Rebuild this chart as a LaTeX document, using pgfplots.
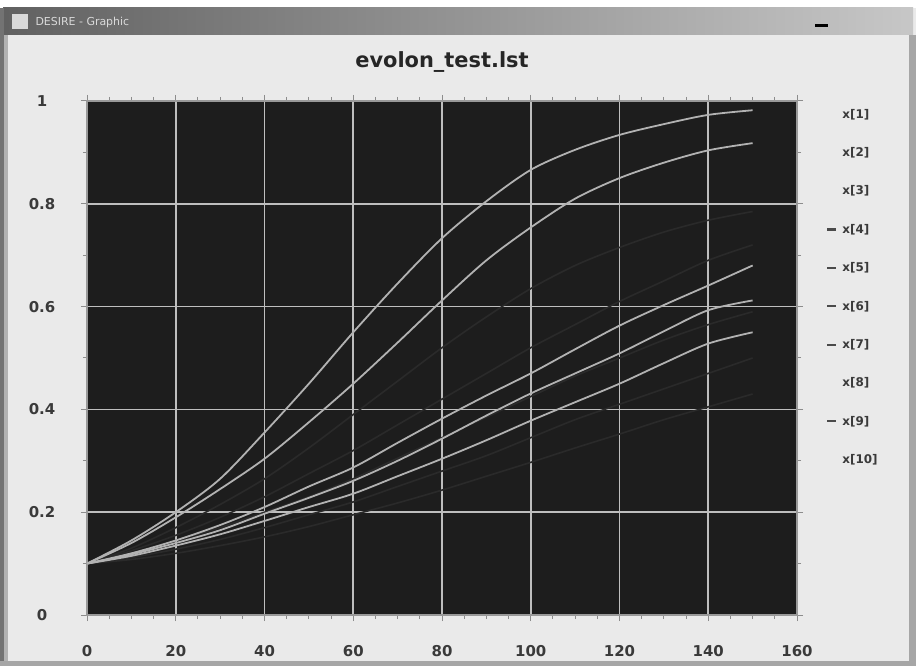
\documentclass[border=0pt]{standalone}
\usepackage{fontspec}
\setmainfont{DejaVu Sans}
\usepackage{pgfplots}
\usepackage{pgfplotstable}
\pgfplotsset{compat=1.18}

\definecolor{winbg}{HTML}{EAEAEA}
\definecolor{plotbg}{HTML}{1D1D1D}
\definecolor{gridc}{HTML}{BEBEBE}
\definecolor{curve}{HTML}{B2B2B2}
\definecolor{dimc}{HTML}{2A2A2A}
\definecolor{labc}{HTML}{3A3A3A}
\definecolor{legdark}{HTML}{4A4A4A}

% x  A(x1) B(x2) D(x3) C(x4) G(x5) H(x6) I(x7) E(x8) J(x9) F(x10)
\pgfplotstableread{
x   A     B     D     C     G     H     I     E     J     F
0   0.100 0.100 0.100 0.100 0.100 0.100 0.100 0.100 0.100 0.100
10  0.145 0.140 0.120 0.130 0.125 0.120 0.112 0.118 0.108 0.115
20  0.200 0.190 0.145 0.170 0.155 0.145 0.128 0.140 0.120 0.135
30  0.265 0.245 0.175 0.215 0.190 0.170 0.147 0.165 0.135 0.157
40  0.355 0.304 0.210 0.265 0.230 0.200 0.170 0.197 0.152 0.183
50  0.450 0.375 0.250 0.325 0.275 0.230 0.195 0.228 0.172 0.210
60  0.550 0.450 0.287 0.390 0.320 0.265 0.220 0.261 0.195 0.236
70  0.645 0.530 0.335 0.455 0.370 0.305 0.250 0.300 0.218 0.270
80  0.733 0.612 0.382 0.520 0.420 0.345 0.280 0.343 0.243 0.304
90  0.805 0.690 0.427 0.580 0.470 0.385 0.310 0.388 0.270 0.340
100 0.866 0.754 0.470 0.635 0.520 0.425 0.345 0.431 0.297 0.378
110 0.905 0.810 0.517 0.680 0.565 0.465 0.380 0.470 0.325 0.414
120 0.934 0.850 0.563 0.715 0.610 0.500 0.410 0.509 0.352 0.450
130 0.955 0.880 0.603 0.745 0.650 0.535 0.440 0.552 0.380 0.490
140 0.973 0.904 0.641 0.768 0.690 0.565 0.470 0.593 0.405 0.528
150 0.982 0.918 0.680 0.785 0.720 0.590 0.500 0.612 0.430 0.550
}\evol

\begin{document}
\begin{tikzpicture}
% window
\fill[winbg] (0bp,0bp) rectangle (916bp,666bp);
\path[use as bounding box] (0bp,0bp) rectangle (916bp,666bp);
\fill[white] (0bp,658bp) rectangle (916bp,666bp);
\shade[left color=black!62, right color=black!22] (3bp,631bp) rectangle (913bp,658bp);
\fill[black!55] (0bp,0bp) rectangle (4bp,658bp);
\fill[black!30] (4bp,0bp) rectangle (8bp,631bp);
\fill[black!35] (909bp,0bp) rectangle (916bp,631bp);
\fill[black!35] (0bp,0bp) rectangle (916bp,5bp);
\fill[black!15] (12bp,637bp) rectangle (28bp,652bp);
\node[anchor=west, text=white!85!black, font=\fontsize{11}{11}\selectfont] at (32bp,644bp) {DESIRE - Graphic};
\fill[black] (815bp,639bp) rectangle (828bp,642bp);

\begin{axis}[
    at={(87bp,51bp)}, anchor=south west,
    width=710bp, height=514bp, scale only axis,
    xmin=0, xmax=160, ymin=0, ymax=1,
    xtick={0,20,...,160},
    ytick={0,0.2,0.4,0.6,0.8,1},
    minor x tick num=3,
    minor y tick num=1,
    tick align=outside,
    major tick length=6bp, minor tick length=4bp,
    tick style={black!45, line width=1bp},
    axis background/.style={fill=plotbg},
    axis line style={black!40, line width=1.5bp},
    grid=major,
    major grid style={gridc, line width=1.6bp},
    /pgf/number format/assume math mode=true,
    ticklabel style={text=labc, font=\bfseries\fontsize{15}{15}\selectfont},
    yticklabel style={anchor=center, xshift=-39bp},
    xticklabel style={anchor=center, yshift=-30bp},
    title={evolon\_test.lst},
    title style={at={(0.5,1)}, anchor=center, yshift=33bp,
        font=\bfseries\fontsize{21}{21}\selectfont, text=black!85},
    legend style={at={(1,1)}, anchor=north west, xshift=26bp, yshift=-4bp,
        draw=none, fill=none, text=labc,
        font=\bfseries\fontsize{12}{12}\selectfont,
        row sep=23.8bp, nodes={inner xsep=5bp}},
    legend cell align=left,
]
% dim series first, bright ones on top
\foreach \c in {C,G,H,I,J} {
  \addplot[dimc, line width=1.6bp, smooth, forget plot] table[x=x, y=\c] {\evol};
}
\foreach \c in {A,B,D,E,F} {
  \addplot[curve, line width=1.8bp, smooth, forget plot] table[x=x, y=\c] {\evol};
}
% light series have light (invisible) legend samples, dark ones a dark dash
\addlegendimage{winbg, line width=2bp, legend image code/.code={\draw (0bp,0bp) -- (9bp,0bp);}}\addlegendentry{x[1]}
\addlegendimage{winbg, line width=2bp, legend image code/.code={\draw (0bp,0bp) -- (9bp,0bp);}}\addlegendentry{x[2]}
\addlegendimage{winbg, line width=2bp, legend image code/.code={\draw (0bp,0bp) -- (9bp,0bp);}}\addlegendentry{x[3]}
\addlegendimage{legdark, line width=2.2bp, legend image code/.code={\draw (0bp,0bp) -- (9bp,0bp);}}\addlegendentry{x[4]}
\addlegendimage{legdark, line width=2.2bp, legend image code/.code={\draw (0bp,0bp) -- (9bp,0bp);}}\addlegendentry{x[5]}
\addlegendimage{legdark, line width=2.2bp, legend image code/.code={\draw (0bp,0bp) -- (9bp,0bp);}}\addlegendentry{x[6]}
\addlegendimage{legdark, line width=2.2bp, legend image code/.code={\draw (0bp,0bp) -- (9bp,0bp);}}\addlegendentry{x[7]}
\addlegendimage{winbg, line width=2bp, legend image code/.code={\draw (0bp,0bp) -- (9bp,0bp);}}\addlegendentry{x[8]}
\addlegendimage{legdark, line width=2.2bp, legend image code/.code={\draw (0bp,0bp) -- (9bp,0bp);}}\addlegendentry{x[9]}
\addlegendimage{winbg, line width=2bp, legend image code/.code={\draw (0bp,0bp) -- (9bp,0bp);}}\addlegendentry{x[10]}
\end{axis}
\end{tikzpicture}
\end{document}
